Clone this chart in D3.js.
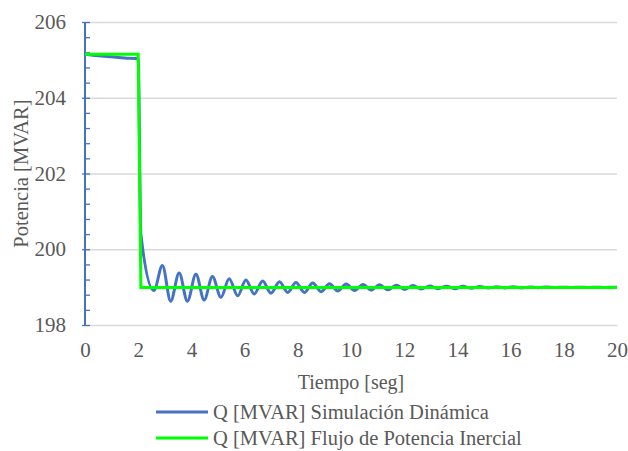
<!doctype html>
<html>
<head>
    <style>
        body { margin: 0; background: #fff; }
    </style>
    <script src="https://d3js.org/d3.v7.min.js"></script>
</head>
<body>
<svg width="628" height="451" id="chart"></svg>
<script>
    // Data
    var tDyn = [0, 0.5, 1.0, 1.5, 2.0, 2.1, 2.59, 2.91, 3.22, 3.54, 3.85, 4.17, 4.48, 4.79, 5.11, 5.42,
                5.74, 6.05, 6.36, 6.68, 6.99, 7.31, 7.62, 7.93, 8.25, 8.56, 8.88, 9.19, 9.50, 9.82,
                10.13, 10.45, 10.76, 11.07, 11.39, 11.70, 12.02, 12.33, 12.64, 12.96, 13.27, 13.59,
                13.90, 14.21, 14.53, 14.84, 15.16, 15.47, 15.78, 16.10, 16.41, 16.73, 17.04, 17.35,
                17.67, 17.98, 18.30, 18.61, 18.92, 19.24, 19.55, 19.87, 20];
    var qDyn = [205.15, 205.11, 205.08, 205.05, 205.03, 200.40, 198.91, 199.57, 198.63, 199.37, 198.63,
                199.34, 198.66, 199.28, 198.73, 199.22, 198.77, 199.19, 198.82, 199.16, 198.84, 199.14,
                198.86, 199.12, 198.86, 199.11, 198.88, 199.09, 198.90, 199.08, 198.91, 199.07, 198.92,
                199.06, 198.93, 199.05, 198.94, 199.04, 198.95, 199.03, 198.96, 199.025, 198.96, 199.02,
                198.97, 199.015, 198.975, 199.01, 198.98, 199.01, 198.98, 199.005, 198.985, 199.005,
                198.99, 199.0, 198.99, 199.0, 198.99, 199.0, 198.99, 199.0, 198.995];
    var tInr = [0, 2.0, 2.1, 20];
    var qInr = [205.15, 205.15, 198.99, 198.99];

    var xTicks = [0, 2, 4, 6, 8, 10, 12, 14, 16, 18, 20];
    var yTicks = [198, 200, 202, 204, 206];
    var yMinor = [198.4, 198.8, 199.2, 199.6, 200.4, 200.8, 201.2, 201.6, 202.4, 202.8, 203.2, 203.6,
                  204.4, 204.8, 205.2, 205.6];

    var seriesNames = ["Q [MVAR] Simulación Dinámica", "Q [MVAR] Flujo de Potencia Inercial"];
    var colors = ["#4472C4", "#00FF00"];
    var serif = "Liberation Serif";

    var svg = d3.select("#chart"),
        pLeft = 85, pRight = 617, pTop = 22, pBottom = 325;

    var x = d3.scaleLinear().domain([0, 20]).range([pLeft, pRight]),
        y = d3.scaleLinear().domain([198, 206]).range([pBottom, pTop]);

    // gridlines
    svg.append("g")
       .attr("transform", "translate(" + pLeft + ",0)")
       .call(d3.axisLeft(y).tickValues(yTicks.slice(1)).tickSize(-(pRight - pLeft)).tickFormat(""))
       .call(function(g) {
           g.select(".domain").remove();
           g.selectAll("line").attr("stroke", "#d9d9d9").attr("stroke-width", 1.3);
       });

    // x axis
    svg.append("g")
       .attr("transform", "translate(0," + pBottom + ")")
       .call(d3.axisBottom(x).tickValues(xTicks).tickSize(0).tickPadding(17))
       .attr("font-family", serif).attr("font-size", 21)
       .call(function(g) {
           g.select(".domain").attr("stroke", "#d9d9d9").attr("stroke-width", 1.3);
           g.selectAll("text").attr("fill", "#595959");
       });

    // y axis: minor ticks pointing inside
    svg.append("g")
       .attr("transform", "translate(" + pLeft + ",0)")
       .call(d3.axisRight(y).tickValues(yMinor).tickSize(5).tickFormat(""))
       .call(function(g) {
           g.select(".domain").remove();
           g.selectAll("line").attr("stroke", "#4472C4").attr("stroke-width", 1.3);
       });

    // y axis: major ticks + labels
    svg.append("g")
       .attr("transform", "translate(" + pLeft + ",0)")
       .call(d3.axisLeft(y).tickValues(yTicks).tickSize(3).tickPadding(16))
       .attr("font-family", serif).attr("font-size", 21)
       .call(function(g) {
           g.select(".domain").attr("stroke", "#4472C4").attr("stroke-width", 2).attr("d", "M0," + pTop + "V" + pBottom);
           g.selectAll("line").attr("stroke", "#4472C4").attr("stroke-width", 1.3).attr("x2", -3);
           g.selectAll(".tick").append("line").attr("x1", 0).attr("x2", 5)
            .attr("stroke", "#4472C4").attr("stroke-width", 1.3);
           g.selectAll("text").attr("fill", "#595959");
       });

    // lines
    var line = d3.line()
        .x(function(d) { return x(d[0]); })
        .y(function(d) { return y(d[1]); });

    svg.append("path")
       .datum(d3.zip(tDyn, qDyn))
       .attr("fill", "none")
       .attr("stroke", colors[0])
       .attr("stroke-width", 3)
       .attr("stroke-linejoin", "round")
       .attr("d", line.curve(d3.curveMonotoneX));

    svg.append("path")
       .datum(d3.zip(tInr, qInr))
       .attr("fill", "none")
       .attr("stroke", colors[1])
       .attr("stroke-width", 3)
       .attr("d", line.curve(d3.curveLinear));

    // axis titles
    svg.append("text")
       .attr("transform", "translate(28," + (pTop + pBottom) / 2 + ") rotate(-90)")
       .attr("text-anchor", "middle")
       .attr("font-family", serif).attr("font-size", 20.5)
       .attr("fill", "#595959")
       .text("Potencia [MVAR]");

    svg.append("text")
       .attr("x", (pLeft + pRight) / 2)
       .attr("y", 389)
       .attr("text-anchor", "middle")
       .attr("font-family", serif).attr("font-size", 20)
       .attr("fill", "#595959")
       .text("Tiempo [seg]");

    // legend
    var legend = svg.append("g");
    seriesNames.forEach(function(name, i) {
        var ly = 412 + i * 26;
        legend.append("line")
              .attr("x1", 156).attr("x2", 208)
              .attr("y1", ly).attr("y2", ly)
              .attr("stroke", colors[i]).attr("stroke-width", 3);
        legend.append("text")
              .attr("x", 213).attr("y", ly)
              .attr("dy", "0.35em")
              .attr("font-family", serif).attr("font-size", 20.5)
              .attr("fill", "#595959")
              .text(name);
    });
</script>
</body>
</html>
